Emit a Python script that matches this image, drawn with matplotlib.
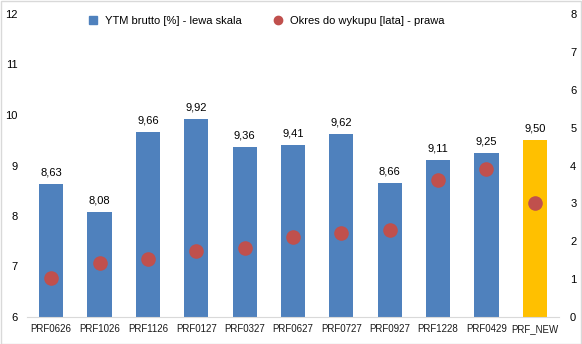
import matplotlib
matplotlib.use("Agg")
import matplotlib.pyplot as plt
from matplotlib.lines import Line2D
from matplotlib.patches import Rectangle

categories = ["PRF0626", "PRF1026", "PRF1126", "PRF0127", "PRF0327", "PRF0627",
              "PRF0727", "PRF0927", "PRF1228", "PRF0429", "PRF_NEW"]
ytm = [8.63, 8.08, 9.66, 9.92, 9.36, 9.41, 9.62, 8.66, 9.11, 9.25, 9.50]
years = [1.03, 1.42, 1.53, 1.74, 1.82, 2.11, 2.23, 2.31, 3.62, 3.91, 3.02]
left_ticks = [6, 7, 8, 9, 10, 11, 12]
right_ticks = [0, 1, 2, 3, 4, 5, 6, 7, 8]

BLUE = "#4F81BD"
ORANGE = "#FFC000"
RED = "#C0504D"
TXT = "#000000"

plt.rcParams['font.family'] = ['Liberation Sans', 'DejaVu Sans']

fig = plt.figure(figsize=(5.82, 3.44), dpi=100)
ax = fig.add_axes([27/582, 27/344, 532/582, 303/344])
x = list(range(len(categories)))
colors = [BLUE] * (len(categories) - 1) + [ORANGE]
ax.bar(x, [v - 6 for v in ytm], bottom=6, width=0.5, color=colors, zorder=2)
for xi, v in zip(x, ytm):
    ax.text(xi, v + 0.13, f"{v:.2f}".replace(".", ","), ha="center", va="bottom",
            fontsize=8, color=TXT)
ax.set_ylim(6, 12)
ax.set_xlim(-0.5, len(categories) - 0.5)
ax.set_yticks(left_ticks)
ax.set_xticks(x)
ax.set_xticklabels(categories, fontsize=7, color="#1a1a1a")
ax.tick_params(axis="y", length=0, labelsize=8, pad=7)
ax.tick_params(axis="x", length=0, pad=5)
for s in ["top", "right", "left"]:
    ax.spines[s].set_visible(False)
ax.spines["bottom"].set_color("#D9D9D9")

ax2 = ax.twinx()
ax2.scatter(x, years, s=90, color=RED, zorder=3)
ax2.set_ylim(0, 8)
ax2.set_yticks(right_ticks)
ax2.tick_params(axis="y", length=0, labelsize=8, pad=8)
for s in ["top", "right", "left", "bottom"]:
    ax2.spines[s].set_visible(False)

handles = [Line2D([], [], marker="s", linestyle="none", color=BLUE, markersize=6),
           Line2D([], [], marker="o", linestyle="none", color=RED, markersize=6)]
fig.legend(handles, ["YTM brutto [%] - lewa skala", "Okres do wykupu [lata] - prawa"],
           loc="center", bbox_to_anchor=(0.452, 0.94), ncol=2, frameon=False,
           fontsize=8, handletextpad=0.1, columnspacing=2.2)

fig.patches.append(Rectangle((0.5/582, 0.5/344), 1 - 1.5/582, 1 - 1.5/344,
                             transform=fig.transFigure, fill=False,
                             edgecolor="#D9D9D9", linewidth=1))
fig.savefig("out.png", dpi=100)
